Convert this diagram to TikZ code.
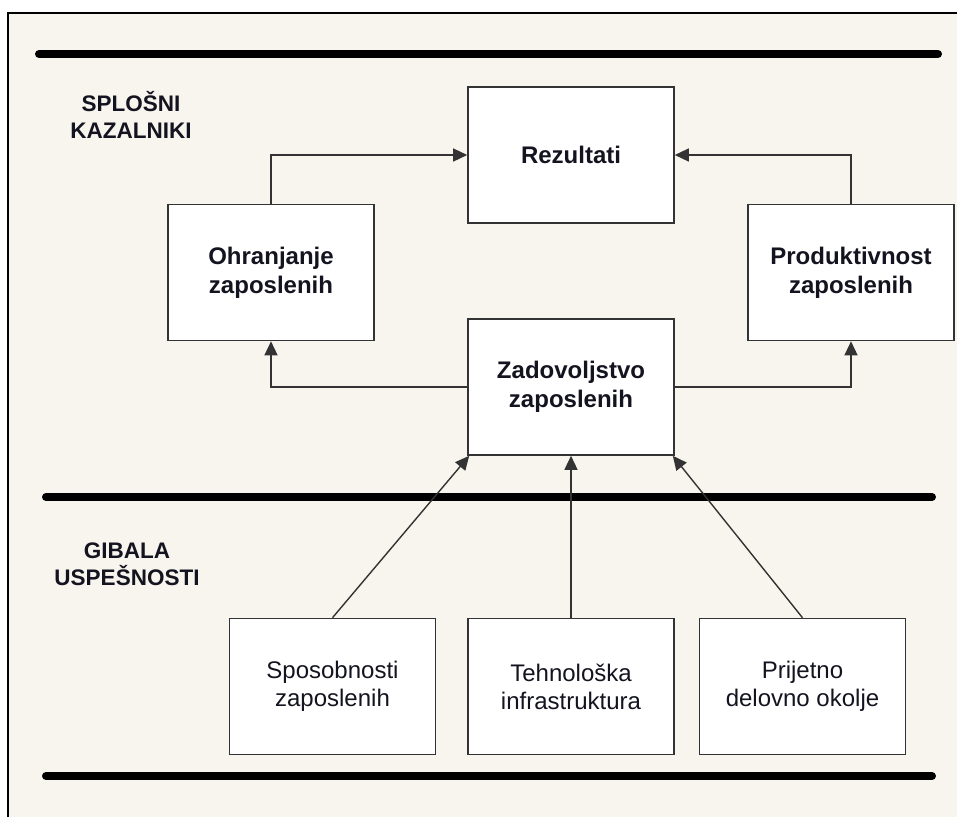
\documentclass[tikz,border=0pt]{standalone}
\usepackage{fontspec}
\setmainfont{Liberation Sans}
\usetikzlibrary{arrows.meta}
\definecolor{paper}{HTML}{F8F5EE}
\definecolor{edge}{HTML}{333333}
\definecolor{ink}{HTML}{141420}

\begin{document}
\begin{tikzpicture}[x=1pt,y=-1pt,
  box/.style={draw=edge, line width=1.6pt, fill=white, text=ink,
    minimum width=206pt, minimum height=136pt, align=center, inner sep=0pt},
  upper/.style={box, font=\fontsize{24}{29}\selectfont\bfseries},
  lower/.style={box, font=\fontsize{24}{28}\selectfont},
  link/.style={draw=edge, line width=1.4pt, -{Triangle[length=14pt,width=13pt]}},
  bar/.style={line width=8pt, line cap=round},
  section/.style={align=center, text=ink, font=\fontsize{22.5}{26.5}\selectfont\bfseries}]

\useasboundingbox (0,0) rectangle (957,817);

% page and frame
\fill[white] (0,0) rectangle (957,817);
\fill[paper] (8,13) rectangle (957,817);
\draw[line width=2pt] (8,817) -- (8,13) -- (957,13);

% separating bars
\draw[bar] (39,54) -- (938,54);
\draw[bar] (46,497) -- (932,497);
\draw[bar] (46,776) -- (932,776);

% section labels
\node[section] (kazalniki) at (131,115) {SPLOŠNI\\KAZALNIKI};
\node[section] (gibala) at (127,564) {GIBALA\\USPEŠNOSTI};

% indicator boxes
\node[upper] (rez) at (571,155) {Rezultati};
\node[upper] (ohr) at (271,272.5) {Ohranjanje\\zaposlenih};
\node[upper] (pro) at (851,272.5) {Produktivnost\\zaposlenih};
\node[upper] (zad) at (571,387) {Zadovoljstvo\\zaposlenih};

% driver boxes
\node[lower] (spo) at (332.5,686.5) {Sposobnosti\\zaposlenih};
\node[lower] (teh) at (571,686.5) {Tehnološka\\infrastruktura};
\node[lower] (pri) at (802.5,686.5) {Prijetno\\delovno okolje};

% connectors
\draw[link] (ohr.north) |- (rez.west);
\draw[link] (pro.north) |- (rez.east);
\draw[link] (zad.west) -| (ohr.south);
\draw[link] (zad.east) -| (pro.south);
\draw[link] (spo.north) -- ([xshift=2pt]zad.south west);
\draw[link] (teh.north) -- (zad.south);
\draw[link] (pri.north) -- ([xshift=-2pt]zad.south east);
\end{tikzpicture}
\end{document}
